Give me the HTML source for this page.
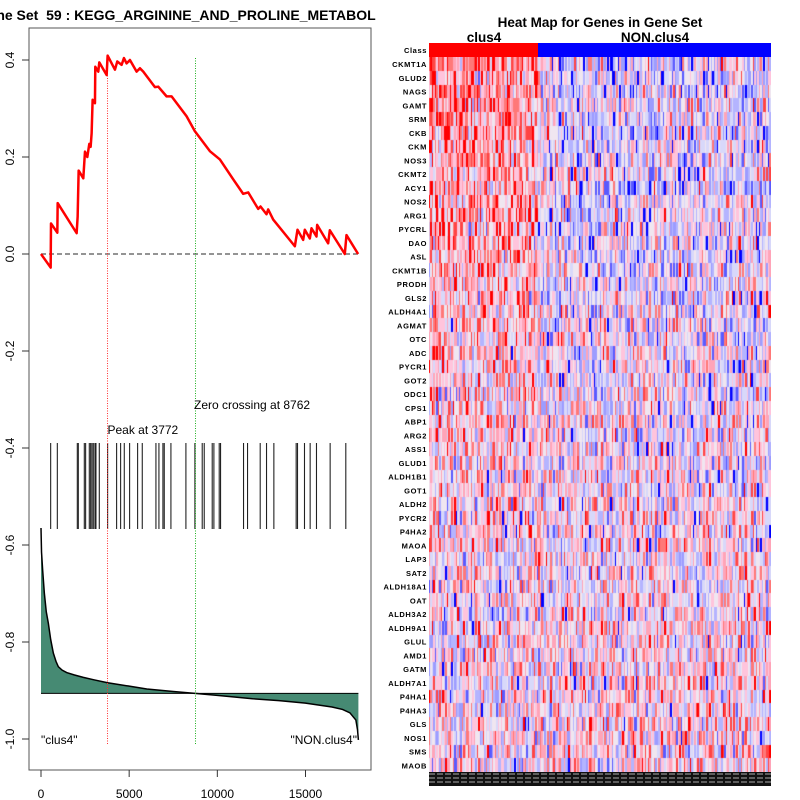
<!DOCTYPE html>
<html><head><meta charset="utf-8"><style>
html,body{margin:0;padding:0;background:#fff;width:800px;height:800px;overflow:hidden}
svg text{font-family:"Liberation Sans",sans-serif}
#hm{position:absolute;left:429px;top:57px}
</style></head><body>
<svg id="chart" width="800" height="800" style="position:absolute;left:0;top:0">
<text x="186" y="20" text-anchor="middle" font-size="14" font-weight="bold">ne Set&#160; 59 : KEGG_ARGININE_AND_PROLINE_METABOL</text>
<rect x="29" y="28" width="342" height="742" fill="none" stroke="#555" stroke-width="1"/>
<g id="axes"></g>
<g id="marks"></g>
<text x="600" y="27" text-anchor="middle" font-size="13.5" font-weight="bold">Heat Map for Genes in Gene Set</text>
<text x="484" y="42" text-anchor="middle" font-size="13.5" font-weight="bold">clus4</text>
<text x="655" y="42" text-anchor="middle" font-size="13.5" font-weight="bold">NON.clus4</text>
<rect x="429" y="43" width="109" height="14" fill="#ff0000"/>
<rect x="538" y="43" width="233" height="14" fill="#0000ff"/>
<text x="427" y="53" text-anchor="end" font-size="7.5" font-weight="bold" letter-spacing="0.6">Class</text>
<g id="genes"></g>
<g id="bottomstrip"></g>
</svg>
<canvas id="hm" width="342" height="715"></canvas>
<script>
// ---- data ----
const esRanks=[0,548,567,926,945,2021,2078,2135,2399,2494,2626,2739,2815,2871,2928,3060,3079,3249,3306,3722,3778,4194,4326,4572,4704,4855,5044,5422,5611,5800,6461,6650,7122,7406,8256,8728,9578,10145,10900,11467,11751,12317,12450,12790,12884,13168,14396,14547,14868,14962,15246,15340,15623,15661,16285,16379,17229,17324,17985];
const esValues=[0,-0.028,0.063,0.044,0.105,0.043,0.077,0.172,0.156,0.211,0.200,0.227,0.221,0.249,0.318,0.311,0.386,0.376,0.395,0.369,0.409,0.380,0.397,0.390,0.404,0.393,0.400,0.376,0.383,0.376,0.344,0.345,0.325,0.325,0.284,0.253,0.212,0.195,0.154,0.124,0.127,0.093,0.098,0.082,0.092,0.071,0.016,0.050,0.029,0.050,0.032,0.053,0.036,0.060,0.022,0.049,0.0,0.039,0.0];
const hitRanks=[548,926,2059,2116,2456,2531,2739,2815,2890,2966,3060,3117,3306,3778,4288,4515,4723,5025,5479,5743,6518,6688,6914,6990,7368,8218,8728,9143,9257,9710,9805,10107,10183,11486,11713,12431,12790,13206,14471,14547,14943,15264,15623,16398,17286];
const metricRanks=[0,30,94,189,300,415,550,700,850,982,1200,1455,1900,2400,3000,3778,5000,6000,7500,8728,10000,12000,13500,15000,16500,17100,17518,17858,17950,18000];
const metricValues=[-0.565,-0.615,-0.652,-0.699,-0.738,-0.761,-0.795,-0.823,-0.840,-0.851,-0.858,-0.863,-0.868,-0.873,-0.878,-0.884,-0.891,-0.897,-0.902,-0.906,-0.910,-0.917,-0.921,-0.926,-0.934,-0.939,-0.946,-0.961,-0.981,-1.002];
const metricBaseline=-0.906;
const xTicks=[0,5000,10000,15000];
const yTicks=[0.4,0.2,0.0,-0.2,-0.4,-0.6,-0.8,-1.0];
const yTickLabels=["0.4","0.2","0.0","-0.2","-0.4","-0.6","-0.8","-1.0"];
const peakRank=3772, zeroRank=8762;
const genes=["CKMT1A","GLUD2","NAGS","GAMT","SRM","CKB","CKM","NOS3","CKMT2","ACY1","NOS2","ARG1","PYCRL","DAO","ASL","CKMT1B","PRODH","GLS2","ALDH4A1","AGMAT","OTC","ADC","PYCR1","GOT2","ODC1","CPS1","ABP1","ARG2","ASS1","GLUD1","ALDH1B1","GOT1","ALDH2","PYCR2","P4HA2","MAOA","LAP3","SAT2","ALDH18A1","OAT","ALDH3A2","ALDH9A1","GLUL","AMD1","GATM","ALDH7A1","P4HA1","P4HA3","GLS","NOS1","SMS","MAOB"];
// ---- scales ----
const X=r=>41+r*0.017633;
const Y=v=>254-v*485;
const NS="http://www.w3.org/2000/svg";
function mk(tag,attrs,parent){const e=document.createElementNS(NS,tag);for(const k in attrs)e.setAttribute(k,attrs[k]);parent.appendChild(e);return e;}
const axes=document.getElementById('axes'), marks=document.getElementById('marks');
xTicks.forEach((t,i)=>{
  const l=mk('line',{x1:X(t),x2:X(t),y1:770,y2:777,stroke:'#333'},axes);
  
  
  const tx=mk('text',{x:X(t),y:798,'text-anchor':'middle','font-size':'12'},axes);tx.textContent=t;
  
  
});
yTicks.forEach((t,i)=>{
  const l=mk('line',{x1:22,x2:29,y1:Y(t),y2:Y(t),stroke:'#333'},axes);
  
  
  const tx=mk('text',{x:0,y:0,'text-anchor':'middle','font-size':'12',transform:`translate(14,${Y(t)}) rotate(-90)`},axes);tx.textContent=yTickLabels[i];
  
  
});
// metric area
let d=`M${X(metricRanks[0])},${Y(metricBaseline)}`;
metricRanks.forEach((r,i)=>d+=` L${X(r)},${Y(metricValues[i])}`);
d+=` L${X(metricRanks[metricRanks.length-1])},${Y(metricBaseline)} Z`;
const area=mk('path',{d:d,fill:'#468a73',stroke:'none'},marks);


const mline=mk('polyline',{points:metricRanks.map((r,i)=>X(r)+','+Y(metricValues[i])).join(' '),fill:'none',stroke:'#000','stroke-width':1.5},marks);


const bl=mk('line',{x1:X(0),x2:X(18000),y1:Y(metricBaseline),y2:Y(metricBaseline),stroke:'#000','stroke-width':1},marks);


// zero line
const zl=mk('line',{x1:X(0),x2:X(18000),y1:Y(0),y2:Y(0),stroke:'#555','stroke-width':1.3,'stroke-dasharray':'5,3'},marks);


// hits
hitRanks.forEach(r=>{
  const h=mk('line',{x1:X(r),x2:X(r),y1:443,y2:529,stroke:'#222','stroke-width':1.1},marks);
  
  
});
// peak / zero crossing lines
const pl=mk('line',{x1:X(peakRank),x2:X(peakRank),y1:58,y2:744,stroke:'#ff3030','stroke-width':1,'stroke-dasharray':'1,1.5'},marks);


const zc=mk('line',{x1:X(zeroRank),x2:X(zeroRank),y1:58,y2:744,stroke:'#20b020','stroke-width':1,'stroke-dasharray':'1,1.5'},marks);


// ES curve
const es=mk('polyline',{points:esRanks.map((r,i)=>X(r)+','+Y(esValues[i])).join(' '),fill:'none',stroke:'#ff0000','stroke-width':2.5,'stroke-linejoin':'round'},marks);


// annotations
[[X(peakRank),434,'Peak at 3772','start','peak-label'],[194,409,'Zero crossing at 8762','start','zero-crossing-label'],[41,744,'"clus4"','start','clus4-label'],[357,744,'"NON.clus4"','end','non-clus4-label']].forEach(a=>{
  const t=mk('text',{x:a[0],y:a[1],'font-size':'12','text-anchor':a[3]},marks);t.textContent=a[2];
  
  
});
// genes
const gg=document.getElementById('genes');
genes.forEach((g,i)=>{
  const t=mk('text',{x:427,y:64+13.75*i+3,'text-anchor':'end','font-size':'7.5','font-weight':'bold','letter-spacing':'0.6'},gg);t.textContent=g;
  
  
});
// heatmap texture (illustrative)
let s=12345;const rnd=()=>{s=(s*1103515245+12345)&0x7fffffff;return s/0x7fffffff;};
const pal=['#0000ff','#5a5aff','#9c9cff','#b4b4ff','#d8d8fa','#f0e6f0','#ffc4dc','#ffa4b8','#ff7878','#ff4444','#ff0000'];
const cv=document.getElementById('hm').getContext('2d');
const cols=228,cw=342/cols,split=Math.round(109/cw);
for(let i=0;i<genes.length;i++){
  const f=i/genes.length;
  const bias=0.5*(1-f)*(1-f)+0.02;
  for(let c=0;c<cols;c++){
    const inA=c<split;
    let v=(rnd()+rnd()+rnd())/3*2-1;
    v*=1.35;
    v+= inA? bias : -bias*0.35+0.12*f*f;
    let k=Math.round((v+1)/2*10);k=Math.max(0,Math.min(10,k));
    cv.fillStyle=pal[k];
    cv.fillRect(Math.floor(c*cw),Math.round(i*13.75),Math.ceil(cw)+0.5,14);
  }
}
// bottom strip
const bs=document.getElementById('bottomstrip');
const r0=mk('rect',{x:429,y:771,width:342,height:15,fill:'#111'},bs);


[774,778,782].forEach(y=>{const l=mk('line',{x1:429,x2:771,y1:y,y2:y,stroke:'#ddd','stroke-width':0.8,'stroke-dasharray':'6,2'},bs);
  
  });
</script>
</body></html>
